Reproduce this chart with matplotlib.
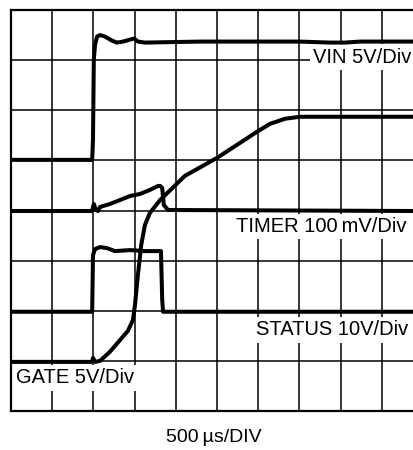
import matplotlib
matplotlib.use("Agg")
import matplotlib.pyplot as plt

plt.rcParams['font.family'] = ['Liberation Sans', 'DejaVu Sans']

# scope traces, x in divisions (500 us/div), y in divisions from bottom
vin_t = [0, 1.97, 1.99, 2.01, 2.04, 2.09, 2.16, 2.28, 2.45, 2.57, 2.72, 2.89, 2.99,
         3.08, 3.25, 4.59, 7.01, 7.74, 8.11, 8.47, 9.8]
vin_y = [5.01, 5.01, 5.41, 7.01, 7.31, 7.47, 7.50, 7.47, 7.39, 7.35, 7.37, 7.41, 7.43,
         7.37, 7.35, 7.37, 7.37, 7.35, 7.35, 7.37, 7.37]

timer_t = [0, 1.97, 2.01, 2.06, 2.11, 2.16, 2.40, 2.65, 2.89, 3.13, 3.37, 3.57, 3.62,
           3.67, 3.71, 3.81, 9.8]
timer_y = [3.99, 3.99, 4.13, 4.01, 3.99, 4.07, 4.13, 4.21, 4.29, 4.33, 4.41, 4.49, 4.49,
           4.45, 4.11, 4.01, 3.99]

status_t = [0, 1.97, 1.99, 2.04, 2.16, 2.33, 2.52, 2.89, 3.25, 3.64, 3.67, 3.69, 9.8]
status_y = [1.98, 1.98, 3.11, 3.23, 3.27, 3.25, 3.19, 3.21, 3.19, 3.19, 2.22, 1.98, 1.98]

gate_t = [0, 1.97, 1.99, 2.04, 2.16, 2.40, 2.65, 2.84, 2.96, 3.01, 3.08, 3.16, 3.25,
          3.37, 3.62, 4.22, 5.00, 5.56, 5.97, 6.29, 6.65, 7.01, 9.8]
gate_y = [0.98, 0.98, 1.06, 0.98, 1.00, 1.18, 1.42, 1.60, 1.82, 2.12, 2.71, 3.31, 3.71,
          3.95, 4.21, 4.69, 5.05, 5.35, 5.57, 5.73, 5.83, 5.87, 5.87]

fig = plt.figure(figsize=(4.14, 4.5), dpi=100)
ax = fig.add_axes([11 / 414, 39 / 450, 403 / 414, 401 / 450])
ax.set_xlim(0, 403 / 41.2)
ax.set_ylim(0, 8)

ax.set_xticks(range(1, 10))
ax.set_yticks(range(1, 8))
ax.tick_params(length=0, labelbottom=False, labelleft=False)
ax.set_axisbelow(True)
ax.grid(True, color='black', linewidth=1.1)
for side in ['left', 'top', 'bottom']:
    ax.spines[side].set_linewidth(1.6)
ax.spines['right'].set_visible(False)

for t, y in [(vin_t, vin_y), (timer_t, timer_y), (status_t, status_y), (gate_t, gate_y)]:
    ax.plot(t, y, color='black', linewidth=2.9, zorder=4, solid_joinstyle='round')

box = dict(facecolor='white', edgecolor='none', pad=2.5)
ax.text(7.34, 7.06, 'VIN 5V/Div', fontsize=14.5, va='center', ha='left', bbox=box)
ax.text(5.46, 3.68, 'TIMER 100\u2009mV/Div', fontsize=14.5, va='center', ha='left', bbox=box)
ax.text(5.95, 1.62, 'STATUS 10V/Div', fontsize=14.5, va='center', ha='left', bbox=box)
ax.text(0.13, 0.66, 'GATE 5V/Div', fontsize=14.5, va='center', ha='left', bbox=box)

fig.text(214 / 414, 1 - 438 / 450, '500\u2009\u00b5s/DIV', fontsize=14, ha='center', va='center')

fig.savefig('out.png', dpi=100)
